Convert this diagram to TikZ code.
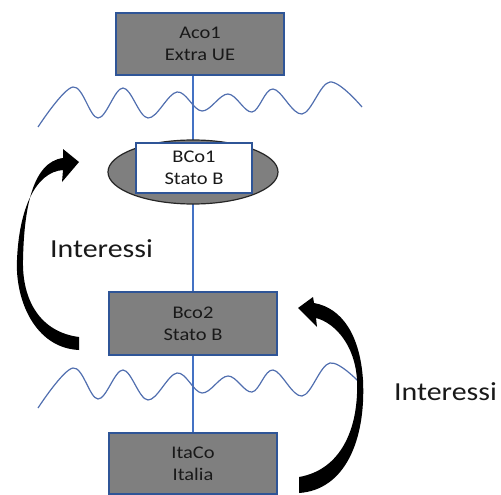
\documentclass[tikz,border=0pt]{standalone}
\usepackage{fontspec}
\setmainfont{Carlito}[FakeStretch=1.15]
\usetikzlibrary{shapes.geometric,backgrounds}
\definecolor{boxgray}{RGB}{127,127,127}
\definecolor{boxblue}{RGB}{47,85,151}
\definecolor{linkblue}{RGB}{68,114,196}
\definecolor{wavecol}{RGB}{80,110,175}
\definecolor{txt}{RGB}{25,25,25}
\tikzset{
  entity/.style={draw=boxblue, line width=1.3pt, fill=boxgray, minimum width=168pt, inner sep=0pt,
    font=\fontsize{17.8}{22}\selectfont, text=txt, align=center},
  wave/.style={draw=wavecol, line width=1.2pt},
  link/.style={draw=linkblue, line width=1.1pt},
  bigarrow/.style={fill=black, draw=none},
  interlabel/.style={font=\fontsize{26}{30}\selectfont, text=txt, inner sep=0pt, anchor=base west}
}
\begin{document}
\begin{tikzpicture}[x=1pt,y=-1pt]
\useasboundingbox (0,0) rectangle (501,495);
% nodes
\node[entity, minimum height=62pt] (aco) at (200,44) {Aco1\\Extra UE};
\node[entity, minimum height=63pt] (bco2) at (193,323.5) {Bco2\\Stato B};
\node[entity, minimum height=61pt] (ita) at (193,463.5) {ItaCo\\Italia};
% ellipse with white box
\node[ellipse, draw=black!85, line width=1.2pt, fill=boxgray, minimum width=170pt, minimum height=64pt, inner sep=0pt] (ell) at (193,172) {};
\node[draw=boxblue, line width=1.3pt, fill=white, minimum width=116pt, minimum height=50pt, inner sep=0pt,
  font=\fontsize{17.8}{22}\selectfont, text=txt, align=center] (bco1) at (194,168) {BCo1\\Stato B};
% connector behind the boxes
\begin{pgfonlayer}{background}
\draw[link] (aco.south -| ita.north) -- (ita.north);
\end{pgfonlayer}
% waves
\draw[wave] plot[smooth, tension=0.6] coordinates {(38,127) (73,87) (98,118) (123,88) (148,118) (177,92) (202,111) (228,94) (252,112) (273,89) (302,114) (330,82) (362,107)};
\draw[wave] plot[smooth, tension=0.6] coordinates {(38,408) (73,368) (98,399) (123,370) (148,400) (177,373) (202,393) (228,376) (252,392) (273,370) (302,396) (330,363) (362,385)};
% left curved arrow
\path[bigarrow] (79,350) .. controls (35,348) and (15,300) .. (17,260)
  .. controls (19,210) and (35,172) .. (63,170) -- (62,182) -- (79,162) -- (63,149) -- (63,158)
  .. controls (32,162) and (24,210) .. (23,260)
  .. controls (22,300) and (40,332) .. (79,337) -- cycle;
% right curved arrow
\path[bigarrow] (299,493) .. controls (345,490) and (366,440) .. (363,380)
  .. controls (360,335) and (342,308) .. (314,303) -- (313,297) -- (298,308) -- (317,327) -- (316,318)
  .. controls (335,323) and (355,345) .. (357,380)
  .. controls (359,430) and (340,470) .. (299,477) -- cycle;
% labels
\node[interlabel] (lab1) at (50,257) {Interessi};
\node[interlabel] (lab2) at (394,400) {Interessi};
\end{tikzpicture}
\end{document}
